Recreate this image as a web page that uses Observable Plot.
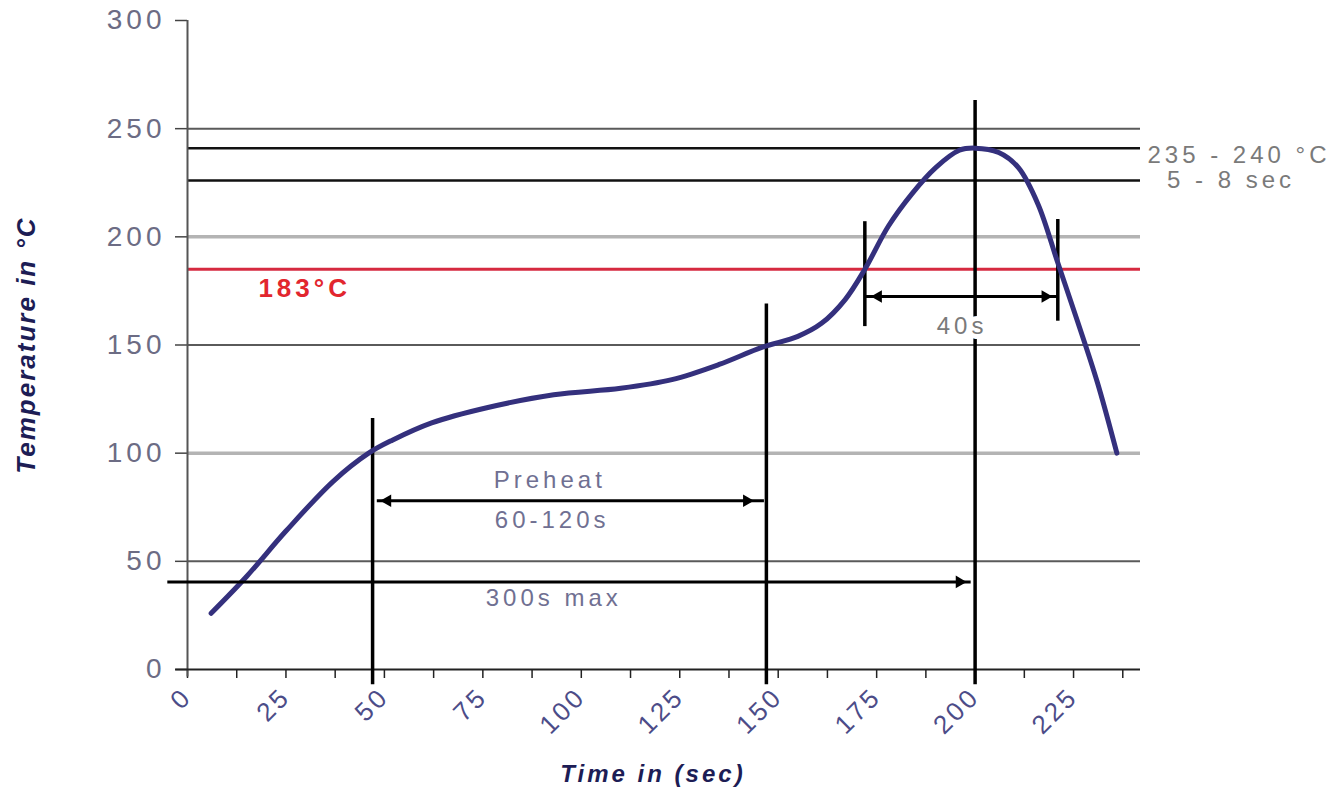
<!DOCTYPE html>
<html><head><meta charset="utf-8">
<script src="https://cdn.jsdelivr.net/npm/d3@7"></script>
<script src="https://cdn.jsdelivr.net/npm/@observablehq/plot@0.6"></script>
<style>
html,body{margin:0;padding:0;background:#fff;}
#chart svg{display:block;}
g[aria-label="y-axis tick label"] text{font-size:28px;letter-spacing:4px;fill:#6c6c84;}
g[aria-label="x-axis tick label"] text{font-size:26px;letter-spacing:3px;fill:#4c4c88;}
</style></head><body><div id="chart"></div>
<script>
// Reflow profile (time in s, temperature in °C)
const timeS = [6, 15, 25, 37, 46, 52, 62, 76, 93, 110, 123, 135, 146, 155, 161, 167, 172, 178, 184, 190, 196, 200, 206, 211, 216, 221, 226, 231, 236];
const tempC = [26, 43, 64, 87, 100, 106, 114, 121, 127, 130, 134, 141, 149, 154, 160, 171, 185, 205, 220, 232, 240, 241, 239, 232, 215, 188, 161, 133, 100];

// Horizontal reference levels
const levelTemp = [250, 241, 226, 200, 185, 150, 100, 50];
const levelKind = ["major", "limit", "limit", "minor", "melt", "major", "minor", "major"];

// Vertical markers
const markTime = [47, 147, 200, 172, 221];
const markTop = [116, 169, 263, 207, 208];
const markBottom = [-7, -7, -7, 158.5, 161];

// Dimension arrows
const spanTemp = [78, 40.5, 172.4];
const spanStart = [48.2, -5, 172];
const spanEnd = [146.5, 199, 221];
const headTime = [50.8, 142, 196, 175.4, 217.8];
const headTemp = [78, 78, 40.5, 172.4, 172.4];
const headDir = ["left", "right", "right", "left", "right"];

// Annotations
const noteText = ["Preheat", "60-120s", "300s max", "40s", "235 - 240 °C", "5 - 8 sec"];
const noteTime = [92, 92.6, 93, 196.7, 267, 265];
const noteTemp = [87.4, 68.9, 32.8, 158.6, 237.6, 226];
const noteKind = ["blue", "blue", "blue", "halo", "gray", "gray"];
const meltText = "183°C";
const meltTime = 18;
const meltTemp = 176;

// Axes
const xTickLabels = [0, 25, 50, 75, 100, 125, 150, 175, 200, 225];
const xMinorTicks = d3.range(0, 242.6, 12.5);
const yTickLabels = [0, 50, 100, 150, 200, 250, 300];
const xTitle = "Time in (sec)";
const yTitle = "Temperature in °C";

const profile = timeS.map((t, i) => ({t, c: tempC[i]}));
const levels = levelTemp.map((c, i) => ({c, kind: levelKind[i]}));
const marks = markTime.map((t, i) => ({t, top: markTop[i], bottom: markBottom[i]}));
const spans = spanTemp.map((c, i) => ({c, a: spanStart[i], b: spanEnd[i]}));
const heads = headTime.map((t, i) => ({t, c: headTemp[i], dir: headDir[i]}));
const notes = noteText.map((s, i) => ({s, t: noteTime[i], c: noteTemp[i], kind: noteKind[i]}));

const levelStyle = {
  major: {stroke: "#5a5a5a", w: 2},
  minor: {stroke: "#b4b4b4", w: 3.5},
  limit: {stroke: "#111", w: 2.5},
  melt: {stroke: "#d62a40", w: 3}
};
const noteFill = {blue: "#707092", gray: "#7a7a7a", halo: "#7a7a7a"};

const chart = Plot.plot({
  width: 1343,
  height: 791,
  marginTop: 20,
  marginBottom: 122,
  marginLeft: 187,
  marginRight: 203,
  x: {domain: [0, 242]},
  y: {domain: [0, 300]},
  style: {fontFamily: "'Liberation Sans', Arial, sans-serif", background: "#fff"},
  marks: [
    // horizontal reference lines
    ...Object.keys(levelStyle).map(k => Plot.ruleY(levels.filter(d => d.kind === k), {
      y: "c", x1: 0, x2: 242, stroke: levelStyle[k].stroke, strokeWidth: levelStyle[k].w
    })),
    // axes
    Plot.axisY({ticks: yTickLabels, tickSize: 12, tickPadding: 10, label: null, stroke: "#444", strokeWidth: 1.5}),
    Plot.axisX({ticks: xMinorTicks, tickSize: 9, tickFormat: () => "", label: null, stroke: "#222", strokeWidth: 1.5}),
    Plot.axisX({ticks: xTickLabels, tickSize: 0, tickPadding: 23, tickRotate: -45, label: null}),
    Plot.ruleX([0], {y1: 300, y2: -3.5, stroke: "#555", strokeWidth: 2}),
    Plot.ruleY([0], {x1: -3, x2: 242, stroke: "#222", strokeWidth: 2}),
    // vertical markers
    Plot.ruleX(marks, {x: "t", y1: "bottom", y2: "top", stroke: "#000", strokeWidth: 3.5}),
    // profile curve
    Plot.line(profile, {x: "t", y: "c", curve: "catmull-rom", stroke: "#34307d", strokeWidth: 5}),
    // dimension arrows
    Plot.ruleY(spans, {y: "c", x1: "a", x2: "b", stroke: "#000", strokeWidth: 3}),
    Plot.dot(heads, {x: "t", y: "c", symbol: "triangle2", r: 6, fill: "#000",
      rotate: d => d.dir === "left" ? -90 : 90}),
    // annotations
    Plot.text(notes.filter(d => d.kind !== "halo"), {
      x: "t", y: "c", text: "s", fontSize: 24, fill: d => noteFill[d.kind]
    }),
    Plot.text(notes.filter(d => d.kind === "halo"), {
      x: "t", y: "c", text: "s", fontSize: 24, fill: d => noteFill[d.kind],
      stroke: "#fff", strokeWidth: 10
    }),
    Plot.text([meltText], {x: meltTime, y: meltTemp, text: d => d, textAnchor: "start",
      fontSize: 26, fontWeight: "bold", fill: "#e2262e"}),
    // axis titles
    Plot.text([xTitle], {text: d => d, frameAnchor: "bottom", dy: 112, dx: -11, textAnchor: "middle",
      fontSize: 24, fontWeight: "bold", fontStyle: "italic", fill: "#1d1d55"}),
    Plot.text([yTitle], {text: d => d, frameAnchor: "left", dx: -161, rotate: -90, textAnchor: "middle",
      fontSize: 26, fontWeight: "bold", fontStyle: "italic", fill: "#1d1d55"})
  ]
});
d3.select(chart).selectAll("text").each(function () {
  const s = this.textContent;
  if (noteText.includes(s) || s === meltText) this.style.letterSpacing = "4px";
  if (s === xTitle) this.style.letterSpacing = "3px";
  if (s === yTitle) this.style.letterSpacing = "2px";
});
document.getElementById("chart").appendChild(chart);
</script>
</body></html>
